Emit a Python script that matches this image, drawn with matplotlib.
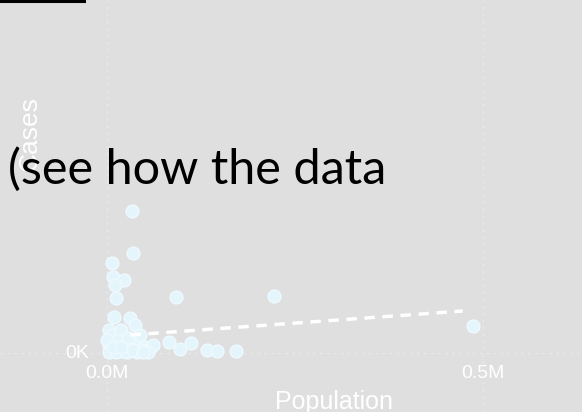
import matplotlib.pyplot as plt
from matplotlib import font_manager

# population (millions) and cases (thousands)
population = [0.033, 0.034, 0.007, 0.008, 0.023, 0.011, 0.012, 0.092, 0.009, 0.030,
              0.037, 0.002, 0.007, 0.018, 0.002, 0.011, 0.024, 0.037, 0.050, 0.057,
              0.015, 0.028, 0.044, 0.000, 0.004, 0.020, 0.032, 0.045, 0.061, 0.083,
              0.097, 0.112, 0.133, 0.146, 0.171, 0.222, 0.486, 0.003, 0.012, 0.026,
              0.040, 0.054, 0.008, 0.019, 0.035, 0.048]
cases = [14.2, 10.0, 9.0, 7.6, 7.3, 6.8, 5.5, 5.6, 3.6, 3.5,
         2.8, 2.3, 1.8, 2.3, 0.8, 0.5, 0.8, 1.1, 0.6, 0.5,
         1.3, 1.5, 1.8, 1.3, 0.3, 0.2, 0.4, 0.3, 0.8, 1.1,
         0.4, 1.0, 0.3, 0.2, 0.2, 5.7, 2.7, 0.1, 0.1, 0.1,
         0.1, 0.1, 0.6, 0.6, 0.3, 0.1]
trend_x = [0.031, 0.473]
trend_y = [1.8, 4.2]
xticks = [0.0, 0.5]
xtick_labels = ["0.0M", "0.5M"]
yticks = [0.0]
ytick_labels = ["0K"]

names = {f.name for f in font_manager.fontManager.ttflist}
tick_font = "Liberation Sans Narrow" if "Liberation Sans Narrow" in names else "Liberation Sans"

bg = "#dfdfdf"
fig = plt.figure(figsize=(5.82, 4.12), dpi=100, facecolor=bg)
ax = fig.add_axes([0, 0, 1, 1], facecolor=bg)
ax.set_xlim(-0.1423, 0.6316)
ax.set_ylim(-5.9, 35.3)
ax.axis("off")

for x in xticks:
    ax.axvline(x, color="#e9e9e9", lw=1, ls=(0, (2, 3)), zorder=0)
for y in yticks:
    ax.axhline(y, color="#e9e9e9", lw=1, ls=(0, (2, 3)), zorder=0)

ax.scatter(population, cases, s=85, color="#e4f5fb", edgecolors="#eefaff",
           linewidths=1, zorder=2)
ax.plot(trend_x, trend_y, color="white", lw=2.5, ls=(0, (3, 2.2)), zorder=3)

for x, lab in zip(xticks, xtick_labels):
    ax.annotate(lab, (x, 0), xytext=(0, -21), textcoords="offset pixels",
                ha="center", va="center", color="white", fontsize=14,
                family=tick_font)
for y, lab in zip(yticks, ytick_labels):
    ax.annotate(lab, (0, y), xytext=(-18, 0), textcoords="offset pixels",
                ha="right", va="center", color="white", fontsize=14,
                family=tick_font)

fig.text(334 / 582, 1 - 409 / 412, "Population", ha="center", va="baseline",
         color="white", fontsize=18, family="Liberation Sans")
fig.text(30 / 582, 1 - 134 / 412, "Cases", ha="center", va="center",
         rotation=90, color="white", fontsize=19, family="Liberation Sans")

# overlay text of the slide
fig.text(8 / 582, 1 - 184 / 412, "(see how the data", ha="left",
         va="baseline", color="black", fontsize=35, family="Lato")
fig.add_artist(plt.Line2D([0, 84 / 582], [1 - 1 / 412, 1 - 1 / 412],
                          color="black", lw=2.2))

fig.savefig("out.png", dpi=100, facecolor=bg)
